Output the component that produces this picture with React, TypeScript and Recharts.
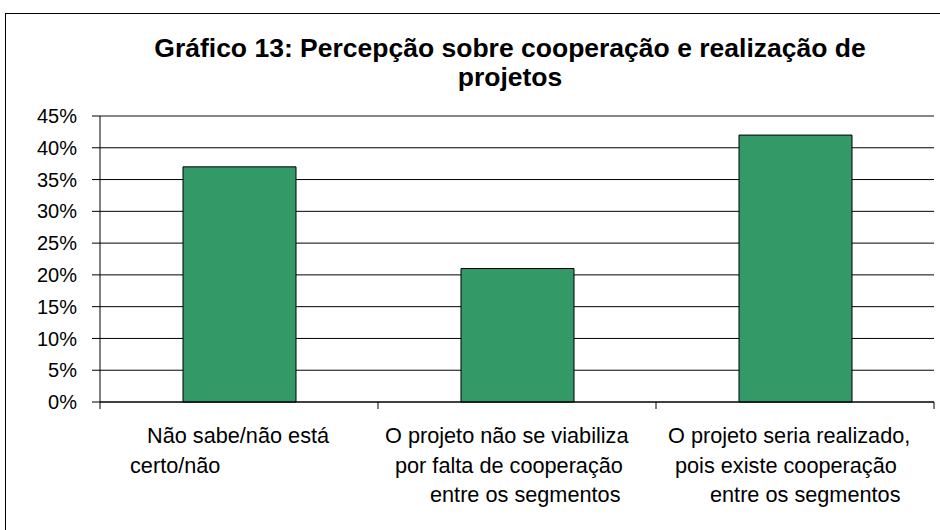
import { BarChart, Bar, XAxis, YAxis, CartesianGrid, ReferenceLine } from 'recharts';

// ─── Data ─────────────────────────────────────────────────────────────────────

const titleLines = ['Gráfico 13: Percepção sobre cooperação e realização de', 'projetos'];

const categories = [
    'Não sabe/não está certo/não',
    'O projeto não se viabiliza por falta de cooperação entre os segmentos',
    'O projeto seria realizado, pois existe cooperação entre os segmentos',
];

// wrapped the way the original sheet wraps them
const categoryLines = [
    ['Não sabe/não está', 'certo/não'],
    ['O projeto não se viabiliza', 'por falta de cooperação', 'entre os segmentos'],
    ['O projeto seria realizado,', 'pois existe cooperação', 'entre os segmentos'],
];

const shares = [37, 21, 42];

const yTicks = [0, 5, 10, 15, 20, 25, 30, 35, 40, 45];

// ─── Layout ───────────────────────────────────────────────────────────────────

const FONT = '"Liberation Sans", Arial, Helvetica, sans-serif';
// left edge of each label line, relative to the category centre
const LINE_STARTS = [
    [-92, -109],
    [-132, -122, -87],
    [-127, -120, -85],
];

const chartData = categories.map((name, i) => ({ name, share: shares[i] }));

function CategoryTick(props: any) {
    const { x, y, payload } = props;
    const i = categories.indexOf(payload.value);
    const half = payload.offset ?? 139;
    const lines = categoryLines[i] ?? [];
    return (
        <g>
            <line x1={x - half} x2={x - half} y1={y} y2={y + 7} stroke="#000" />
            {i === categories.length - 1 && (
                <line x1={x + half} x2={x + half} y1={y} y2={y + 7} stroke="#000" />
            )}
            <text fontSize={21.7} fill="#000" fontFamily={FONT}>
                {lines.map((line, k) => (
                    <tspan key={k} x={x + (LINE_STARTS[i]?.[k] ?? 0)} y={y + 41 + k * 29.5}>
                        {line}
                    </tspan>
                ))}
            </text>
        </g>
    );
}

export default function App() {
    return (
        <div style={{ position: 'absolute', left: 0, top: 0, width: 940, height: 530, overflow: 'hidden', background: '#fff' }}>
            <div
                style={{
                    position: 'absolute', left: 5, top: 13, width: 960, height: 560,
                    border: '1px solid #000', boxSizing: 'border-box',
                }}
            />
            <div
                style={{
                    position: 'absolute', left: 80, top: 34, width: 860,
                    textAlign: 'center', fontFamily: FONT, fontWeight: 'bold',
                    fontSize: 26.5, lineHeight: '29px', color: '#000', whiteSpace: 'nowrap',
                }}
            >
                {titleLines.map((t) => <div key={t}>{t}</div>)}
            </div>
            <div style={{ position: 'absolute', left: 0, top: 0 }}>
                <BarChart
                    width={940}
                    height={530}
                    data={chartData}
                    margin={{ top: 116, right: 6, bottom: 0, left: 0 }}
                    barSize={113}
                >
                    <CartesianGrid vertical={false} stroke="#000" />
                    <XAxis
                        dataKey="name"
                        height={128}
                        tickSize={0}
                        tickMargin={0}
                        tickLine={false}
                        axisLine={{ stroke: '#000' }}
                        interval={0}
                        tick={<CategoryTick />}
                    />
                    <YAxis
                        width={100}
                        domain={[0, 45]}
                        ticks={yTicks}
                        tickFormatter={(v: number) => `${v}%`}
                        tickSize={8}
                        tickMargin={15}
                        tickLine={{ stroke: '#000' }}
                        axisLine={{ stroke: '#000' }}
                        tick={{ fontSize: 20, fill: '#000', fontFamily: FONT }}
                    />
                    <YAxis
                        yAxisId="edge"
                        orientation="right"
                        width={0}
                        tick={false}
                        tickLine={false}
                        axisLine={{ stroke: '#b4b4b4' }}
                    />
                    <ReferenceLine y={45} stroke="#8c8c8c" />
                    <Bar dataKey="share" fill="#339966" stroke="#000" strokeWidth={1} isAnimationActive={false} />
                </BarChart>
            </div>
        </div>
    );
}
